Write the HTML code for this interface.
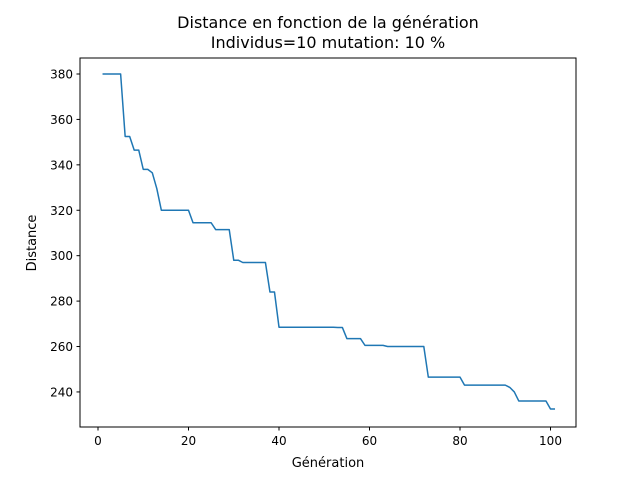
<!DOCTYPE html>
<html><head><meta charset="utf-8"><style>body{margin:0;background:#fff}svg{display:block;font-family:"DejaVu Sans","Liberation Sans",sans-serif}</style></head>
<body>
<svg id="c" width="640" height="480" xmlns="http://www.w3.org/2000/svg">
<rect width="640" height="480" fill="#fff"/>
<text x="328" y="28" text-anchor="middle" font-size="16">Distance en fonction de la génération</text>
<text x="328" y="48" text-anchor="middle" font-size="16">Individus=10 mutation: 10 %</text>
<g id="ax"></g>
<rect x="80" y="58" width="496" height="369" fill="none" stroke="#000" stroke-width="1"/>
<text x="328" y="467" text-anchor="middle" font-size="13">Génération</text>
<text transform="translate(36,243) rotate(-90)" text-anchor="middle" font-size="13">Distance</text>
</svg>
<script>
const distances = [380,380,380,380,380,352.5,352.5,346.5,346.5,338,338,336.5,329.5,320,320,320,320,320,320,320,314.5,314.5,314.5,314.5,314.5,311.5,311.5,311.5,311.5,298,298,297,297,297,297,297,297,284,284,268.5,268.5,268.5,268.5,268.5,268.5,268.5,268.5,268.5,268.5,268.5,268.5,268.5,268.4,268.4,263.5,263.5,263.5,263.5,260.5,260.5,260.5,260.5,260.5,260,260,260,260,260,260,260,260,260,246.5,246.5,246.5,246.5,246.5,246.5,246.5,246.5,243,243,243,243,243,243,243,243,243,243,242,240,236,236,236,236,236,236,236,232.5,232.5];
const xTicks = [0,20,40,60,80,100];
const yTicks = [240,260,280,300,320,340,360,380];
const X = v => 98 + v*4.525;
const Y = v => 74 + (380 - v)*2.271;
const ns = "http://www.w3.org/2000/svg";
const ax = document.getElementById('ax');
function mk(t, a){const e=document.createElementNS(ns,t);for(const k in a)e.setAttribute(k,a[k]);ax.appendChild(e);return e;}
xTicks.forEach(t=>{
  const l=mk('line',{x1:X(t),x2:X(t),y1:427,y2:430.5,stroke:'#000'});
  
  
  const s=mk('text',{x:X(t),y:445,'text-anchor':'middle','font-size':'12'});
  s.textContent=t;
  
  
});
yTicks.forEach(t=>{
  const l=mk('line',{x1:76.5,x2:80,y1:Y(t),y2:Y(t),stroke:'#000'});
  
  
  const s=mk('text',{x:73,y:Y(t)+4.5,'text-anchor':'end','font-size':'12'});
  s.textContent=t;
  
  
});
const p=mk('polyline',{points:distances.map((d,i)=>X(i+1)+','+Y(d)).join(' '),fill:'none',stroke:'#1f77b4','stroke-width':'1.5','stroke-linejoin':'round'});


</script>
</body></html>
